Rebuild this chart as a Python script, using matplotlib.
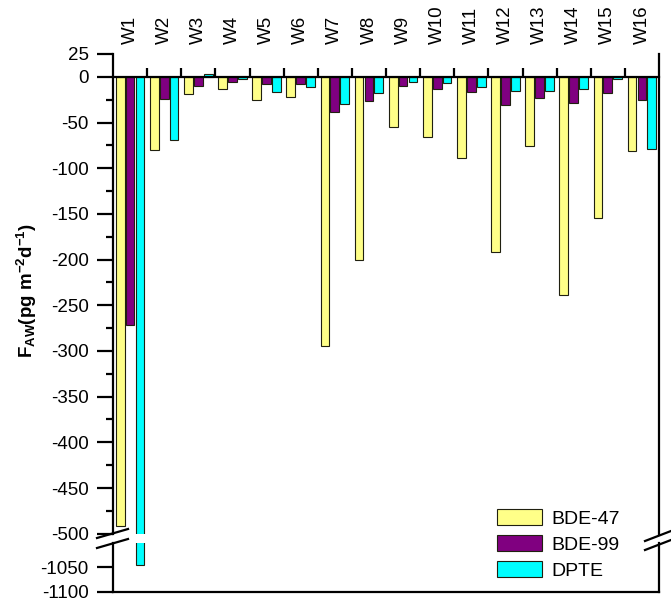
import numpy as np
import matplotlib
matplotlib.use('Agg')
import matplotlib.pyplot as plt
from matplotlib.lines import Line2D

plt.rcParams['font.family'] = ['Liberation Sans', 'DejaVu Sans']
plt.rcParams['axes.unicode_minus'] = False
plt.rcParams['mathtext.fontset'] = 'custom'
plt.rcParams['mathtext.rm'] = 'Liberation Sans:bold'
plt.rcParams['mathtext.it'] = 'Liberation Sans:bold'
plt.rcParams['mathtext.bf'] = 'Liberation Sans:bold'

# Sites and fluxes (pg m-2 d-1)
sites = ['W1', 'W2', 'W3', 'W4', 'W5', 'W6', 'W7', 'W8',
         'W9', 'W10', 'W11', 'W12', 'W13', 'W14', 'W15', 'W16']
bde47 = [-492, -80, -19, -13, -25.5, -22.5, -295, -200,
         -54.5, -66, -89, -192, -76, -239, -154, -81.5]
bde99 = [-272, -24.5, -10, -6, -8, -7.7, -39, -26,
         -10, -13.5, -17, -31, -23.7, -29, -17.4, -25]
dpte = [-1046, -69, 3, -2, -17, -11, -30, -18,
        -6, -6.5, -11, -15, -15.7, -13.5, -2, -78.5]

series = [('BDE-47', bde47, '#FFFF88'),
          ('BDE-99', bde99, '#800080'),
          ('DPTE', dpte, '#00FFFF')]

W, H = 671, 601
fig = plt.figure(figsize=(W / 100, H / 100), dpi=100)

def px_box(left, top, right, bottom):
    return [left / W, 1 - bottom / H, (right - left) / W, (bottom - top) / H]

ax_top = fig.add_axes(px_box(113, 54, 659, 533.7))
ax_bot = fig.add_axes(px_box(113, 543, 659, 592))

x = np.arange(1, len(sites) + 1)
offsets = [-0.29, 0.0, 0.29]
bw = 0.255
for (name, vals, col), off in zip(series, offsets):
    for ax in (ax_top, ax_bot):
        ax.bar(x + off, vals, width=bw, color=col, edgecolor='#202010',
               linewidth=0.8, label=name)

for ax in (ax_top, ax_bot):
    ax.set_xlim(0.5, len(sites) + 0.5)
    ax.spines['top'].set_visible(False)
    for s in ('left', 'right', 'bottom'):
        ax.spines[s].set_linewidth(1.6)
    ax.tick_params(axis='y', which='major', direction='out', length=11.5,
                   width=1.6, labelsize=13.5, pad=6)
    ax.tick_params(axis='y', which='minor', direction='out', length=5,
                   width=1.6)

# upper part
ax_top.set_ylim(-500, 25)
ax_top.set_yticks(np.arange(-500, 26, 50).tolist() + [25])
ax_top.set_yticks(np.arange(-475, 0, 50), minor=True)
ax_top.spines['bottom'].set_position(('data', 0))
ax_top.set_xticks(x[:-1] + 0.5)
ax_top.tick_params(axis='x', direction='in', length=6.5, width=1.6,
                   labelbottom=False)

sec = ax_top.secondary_xaxis('top')
sec.set_xticks(x)
sec.set_xticklabels(sites, rotation=90, fontsize=13.5)
sec.tick_params(length=0, pad=7)
for s in sec.spines.values():
    s.set_visible(False)

# lower part
ax_bot.set_ylim(-1100, -1002)
ax_bot.set_yticks([-1100, -1050])
ax_bot.set_xticks([])

# break marks
def brk(x0, y0, x1, y1):
    fig.add_artist(Line2D([x0 / W, x1 / W], [1 - y0 / H, 1 - y1 / H],
                          color='black', lw=1.6))

brk(97, 538, 128, 529)
brk(97, 548, 128, 539)
brk(645, 541, 671, 531)
brk(645, 550, 671, 540)

fig.text(27 / W, 1 - 290 / H, r'F$_{AW}$(pg m$^{-2}$d$^{-1}$)',
         rotation=90, ha='center', va='center', fontsize=13.5,
         fontweight='bold')

handles, labels = ax_top.get_legend_handles_labels()
fig.legend(handles, labels, loc='upper left',
           bbox_to_anchor=(497 / W, 1 - 509 / H), frameon=False,
           fontsize=14, handlelength=2.3, handleheight=0.9,
           handletextpad=0.5, labelspacing=0.38, borderpad=0,
           borderaxespad=0)

fig.savefig('out.png', dpi=100)
